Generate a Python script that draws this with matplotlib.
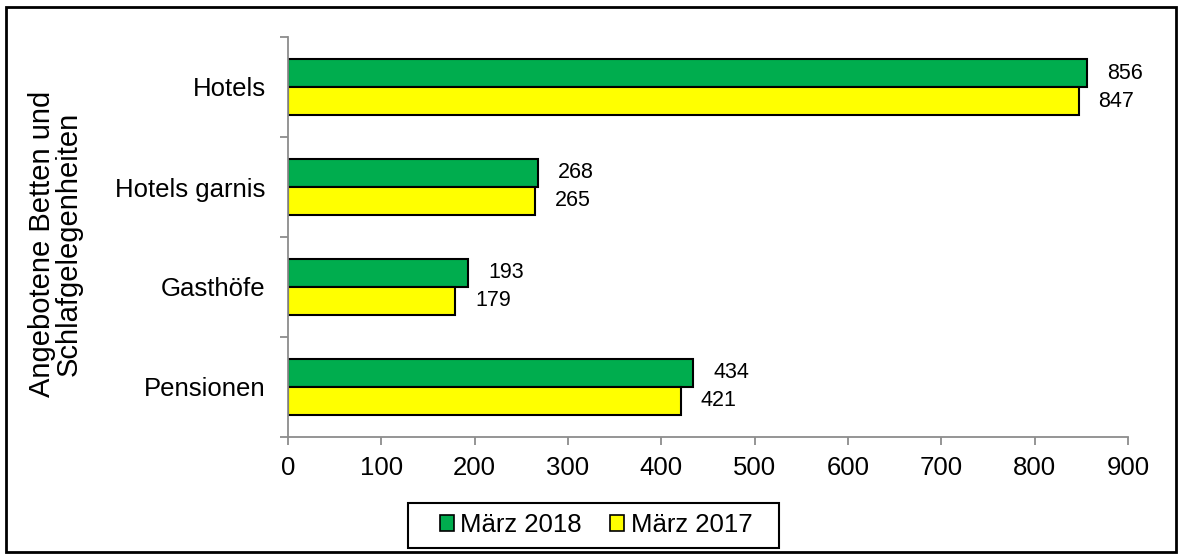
import numpy as np
import matplotlib
matplotlib.use('Agg')
import matplotlib.pyplot as plt
from matplotlib.patches import Rectangle

plt.rcParams['font.family'] = ['Liberation Sans', 'DejaVu Sans']

# data
categories = ['Hotels', 'Hotels garnis', 'Gasthöfe', 'Pensionen']
maerz_2018 = [856, 268, 193, 434]
maerz_2017 = [847, 265, 179, 421]
x_ticks = [0, 100, 200, 300, 400, 500, 600, 700, 800, 900]

green = '#00ad4e'
yellow = '#ffff00'
grey = '#8c8c8c'

W, H = 1181, 560
fig = plt.figure(figsize=(W / 100, H / 100), dpi=100)
ax = fig.add_axes([288 / W, 1 - 437 / H, 840 / W, 400 / H])

pos = np.arange(len(categories))[::-1]
h = 0.28
b1 = ax.barh(pos + h / 2, maerz_2018, height=h, color=green,
             edgecolor='black', linewidth=1.5, label='März 2018')
b2 = ax.barh(pos - h / 2, maerz_2017, height=h, color=yellow,
             edgecolor='black', linewidth=1.5, label='März 2017')

for bars, vals in ((b1, maerz_2018), (b2, maerz_2017)):
    for bar, v in zip(bars, vals):
        ax.annotate(str(v), (v, bar.get_y() + bar.get_height() / 2),
                    xytext=(20, 0), textcoords='offset pixels',
                    ha='left', va='center', fontsize=15.5)

ax.set_xlim(0, 900)
ax.set_ylim(-0.5, len(categories) - 0.5)
ax.set_xticks(x_ticks)
ax.set_yticks(pos)
ax.set_yticklabels(categories)
ax.set_yticks(np.arange(len(categories) + 1) - 0.5, minor=True)

for s in ('top', 'right'):
    ax.spines[s].set_visible(False)
for s in ('left', 'bottom'):
    ax.spines[s].set_color(grey)
    ax.spines[s].set_linewidth(1.3)

ax.tick_params(axis='y', which='major', length=0, pad=16, labelsize=18.5)
ax.tick_params(axis='y', which='minor', length=6, width=1.3, color=grey, direction='out')
ax.tick_params(axis='x', which='major', length=6, width=1.3, color=grey,
               direction='out', pad=8, labelsize=18.5)

fig.text(0.047, 0.565, 'Angebotene Betten und\nSchlafgelegenheiten',
         rotation=90, ha='center', va='center', fontsize=21, linespacing=0.95)

# legend without its own frame, box drawn separately
leg = ax.legend(loc='center', bbox_to_anchor=(596 / W, 1 - 525 / H),
                bbox_transform=fig.transFigure, ncol=2, fontsize=18.5,
                frameon=False, handlelength=0.55, handleheight=0.55,
                handletextpad=0.25, columnspacing=1.1, borderaxespad=0)
for p in leg.get_patches():
    p.set_linewidth(1.2)
    p.set_edgecolor('black')

fig.patches.append(Rectangle((408 / W, 1 - 548 / H), 371 / W, 45 / H,
                             transform=fig.transFigure, fill=False,
                             edgecolor='black', linewidth=1.5))
fig.patches.append(Rectangle((6 / W, 1 - 552 / H), 1170 / W, 545 / H,
                             transform=fig.transFigure, fill=False,
                             edgecolor='black', linewidth=2))

plt.savefig('out.png', dpi=100)
